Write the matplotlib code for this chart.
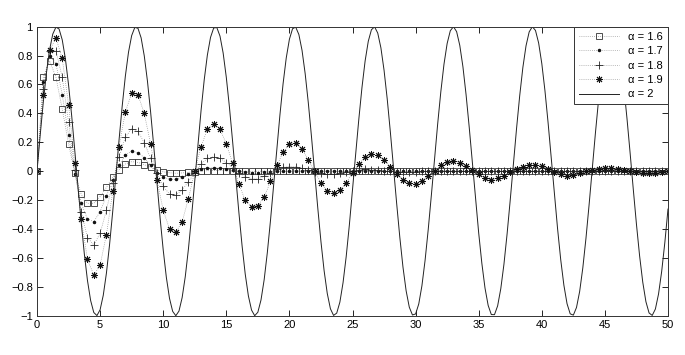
import numpy as np
import matplotlib
matplotlib.use("Agg")
import matplotlib.pyplot as plt

plt.rcParams['font.family'] = ['Liberation Sans', 'DejaVu Sans']

# sample times for the marker series (step 0.5)
t_m = np.arange(0, 101) * 0.5

a16 = [0, 0.654, 0.763, 0.65, 0.43, 0.19, -0.015, -0.16, -0.222, -0.222,
       -0.176, -0.112, -0.042, 0.01, 0.05, 0.066, 0.061, 0.045, 0.027, 0.008,
       -0.004, -0.011, -0.014, -0.012, -0.008, -0.003, 0.0, 0.003, 0.004, 0.004,
       0.003, 0.002, 0.0, -0.001, -0.001, 0, 0, 0, 0, 0,
       0, 0, 0, 0, 0, 0, 0, 0, 0, 0,
       0, 0, 0, 0, 0, 0, 0, 0, 0, 0,
       0, 0, 0, 0, 0, 0, 0, 0, 0, 0,
       0, 0, 0, 0, 0, 0, 0, 0, 0, 0,
       0, 0, 0, 0, 0, 0, 0, 0, 0, 0,
       0, 0, 0, 0, 0, 0, 0, 0, 0, 0, 0]

a17 = [0, 0.616, 0.80, 0.745, 0.53, 0.25, -0.02, -0.22, -0.33, -0.35,
       -0.28, -0.17, -0.06, 0.04, 0.11, 0.14, 0.128, 0.094, 0.04, -0.01,
       -0.042, -0.056, -0.056, -0.042, -0.022, -0.003, 0.012, 0.021, 0.024, 0.021,
       0.014, 0.006, -0.002, -0.007, -0.009, -0.009, -0.007, -0.004, -0.001, 0.001,
       0.003, 0.003, 0.003, 0.002, 0.001, 0, 0, 0, 0, 0,
       0, 0, 0, 0, 0, 0, 0, 0, 0, 0,
       0, 0, 0, 0, 0, 0, 0, 0, 0, 0,
       0, 0, 0, 0, 0, 0, 0, 0, 0, 0,
       0, 0, 0, 0, 0, 0, 0, 0, 0, 0,
       0, 0, 0, 0, 0, 0, 0, 0, 0, 0, 0]

a18 = [0, 0.57, 0.83, 0.835, 0.65, 0.34, 0.01, -0.28, -0.46, -0.51,
       -0.43, -0.27, -0.08, 0.10, 0.235, 0.295, 0.275, 0.197, 0.089, -0.01,
       -0.105, -0.158, -0.165, -0.13, -0.073, -0.01, 0.05, 0.088, 0.10, 0.089,
       0.06, 0.025, -0.01, -0.038, -0.053, -0.053, -0.035, -0.01, 0.012, 0.026,
       0.032, 0.03, 0.02, 0.007, -0.006, -0.015, -0.02, -0.019, -0.013, -0.005,
       0.003, 0.009, 0.012, 0.011, 0.008, 0.003, -0.002, -0.006, -0.007, -0.007,
       -0.005, -0.002, 0.001, 0.003, 0.004, 0.004, 0.003, 0.001, -0.001, -0.002,
       -0.002, -0.002, -0.001, 0.0, 0.001, 0, 0, 0, 0, 0,
       0, 0, 0, 0, 0, 0, 0, 0, 0, 0,
       0, 0, 0, 0, 0, 0, 0, 0, 0, 0, 0]

a19 = [0, 0.53, 0.84, 0.92, 0.78, 0.46, 0.055, -0.33, -0.61, -0.72,
       -0.65, -0.44, -0.14, 0.17, 0.41, 0.54, 0.53, 0.40, 0.19, -0.06,
       -0.27, -0.40, -0.42, -0.35, -0.19, 0.0, 0.17, 0.29, 0.33, 0.29,
       0.19, 0.055, -0.09, -0.20, -0.25, -0.24, -0.18, -0.07, 0.04, 0.13,
       0.19, 0.195, 0.155, 0.08, 0.0, -0.08, -0.135, -0.148, -0.13, -0.08,
       -0.01, 0.05, 0.095, 0.117, 0.11, 0.078, 0.031, -0.018, -0.061, -0.084,
       -0.089, -0.066, -0.031, 0.004, 0.041, 0.064, 0.073, 0.06, 0.037, 0.01,
       -0.019, -0.047, -0.058, -0.05, -0.033, -0.008, 0.013, 0.031, 0.044, 0.043,
       0.036, 0.017, -0.003, -0.02, -0.03, -0.028, -0.014, 0.0, 0.01, 0.018,
       0.024, 0.024, 0.017, 0.009, 0.001, -0.007, -0.013, -0.014, -0.01, -0.005, 0.0]

# alpha = 2 curve, sampled every 0.25
t_s = np.arange(0, 201) * 0.25
a20 = [0, 0.247, 0.479, 0.682, 0.841, 0.949, 0.997, 0.984, 0.909, 0.778,
       0.598, 0.382, 0.141, -0.108, -0.351, -0.572, -0.757, -0.895, -0.978, -0.999,
       -0.959, -0.859, -0.706, -0.508, -0.279, -0.033, 0.215, 0.450, 0.657, 0.823,
       0.938, 0.995, 0.989, 0.923, 0.798, 0.625, 0.412, 0.174, -0.075, -0.320,
       -0.544, -0.735, -0.880, -0.970, -1.000, -0.968, -0.875, -0.729, -0.537, -0.311,
       -0.066, 0.183, 0.420, 0.632, 0.804, 0.926, 0.991, 0.994, 0.935, 0.818,
       0.650, 0.442, 0.206, -0.042, -0.288, -0.516, -0.712, -0.863, -0.961, -1.000,
       -0.976, -0.891, -0.751, -0.564, -0.342, -0.099, 0.150, 0.390, 0.606, 0.784,
       0.913, 0.986, 0.997, 0.946, 0.837, 0.675, 0.472, 0.239, -0.009, -0.256,
       -0.487, -0.688, -0.846, -0.952, -0.998, -0.982, -0.906, -0.772, -0.591, -0.373,
       -0.132, 0.117, 0.359, 0.579, 0.763, 0.899, 0.979, 0.999, 0.956, 0.854,
       0.699, 0.501, 0.271, 0.024, -0.224, -0.458, -0.664, -0.828, -0.941, -0.995,
       -0.988, -0.919, -0.793, -0.618, -0.404, -0.165, 0.084, 0.328, 0.551, 0.741,
       0.884, 0.972, 1.000, 0.966, 0.871, 0.723, 0.529, 0.303, 0.058, -0.191,
       -0.428, -0.638, -0.809, -0.929, -0.992, -0.993, -0.932, -0.813, -0.644, -0.434,
       -0.198, 0.051, 0.296, 0.523, 0.718, 0.868, 0.964, 1.000, 0.974, 0.887,
       0.745, 0.557, 0.334, 0.091, -0.159, -0.398, -0.613, -0.789, -0.917, -0.987,
       -0.996, -0.943, -0.832, -0.669, -0.464, -0.230, 0.018, 0.265, 0.495, 0.694,
       0.851, 0.954, 0.999, 0.981, 0.902, 0.767, 0.584, 0.365, 0.124, -0.126,
       -0.367, -0.586, -0.768, -0.903, -0.981, -0.998, -0.954, -0.850, -0.693, -0.493,
       -0.262]

labels = ['α = 1.6', 'α = 1.7', 'α = 1.8', 'α = 1.9', 'α = 2']
xticks = [0, 5, 10, 15, 20, 25, 30, 35, 40, 45, 50]
yticks = [-1, -0.8, -0.6, -0.4, -0.2, 0, 0.2, 0.4, 0.6, 0.8, 1]
ytick_labels = ['\u22121', '\u22120.8', '\u22120.6', '\u22120.4', '\u22120.2', '0',
                '0.2', '0.4', '0.6', '0.8', '1']

fig = plt.figure(figsize=(6.85, 3.55), dpi=100)
ax = fig.add_axes([37/685, 1-315.7/355, (668-37)/685, (315.7-26.7)/355])

dot_ls = (0, (1, 2))
lc = '#777777'
ax.plot(t_m, a16, linestyle=dot_ls, color=lc, lw=0.5, marker='s', ms=4.8,
        mfc='none', mec='#333333', mew=0.6, label=labels[0])
ax.plot(t_m, a17, linestyle=dot_ls, color=lc, lw=0.5, marker='.', ms=3,
        mfc='#111111', mec='#111111', label=labels[1])
ax.plot(t_m, a18, linestyle=dot_ls, color=lc, lw=0.5, marker='+', ms=6,
        mec='#222222', mew=0.6, label=labels[2])
ax.plot(t_m, a19, linestyle=dot_ls, color=lc, lw=0.5, marker=(8, 2, 0), ms=5,
        mec='#111111', mew=0.7, label=labels[3])
ax.plot(t_s, a20, '-', color='#222222', lw=0.7, label=labels[4])

ax.set_xlim(0, 50)
ax.set_ylim(-1, 1)
ax.set_xticks(xticks)
ax.set_yticks(yticks)
ax.set_yticklabels(ytick_labels)
ax.tick_params(direction='in', top=True, right=True, length=4, width=0.6,
               labelsize=8, pad=3)
for s in ax.spines.values():
    s.set_linewidth(0.7)
    s.set_color('#333333')

leg = ax.legend(loc='upper right', borderaxespad=0, fancybox=False,
                edgecolor='#333333', framealpha=1, fontsize=8,
                handlelength=3.6, labelspacing=0.4, handletextpad=0.8,
                borderpad=0.45)
leg.get_frame().set_linewidth(0.7)

fig.savefig('out.png', dpi=100)
